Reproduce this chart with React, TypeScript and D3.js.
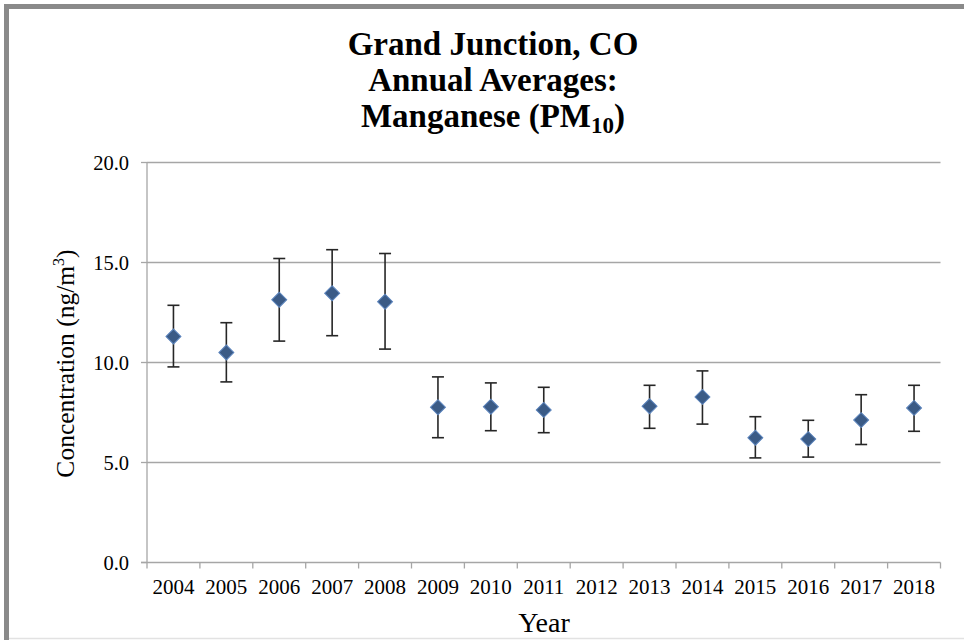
import React from 'react';
import * as d3 from 'd3';

const years = ['2004', '2005', '2006', '2007', '2008', '2009', '2010', '2011', '2012', '2013', '2014', '2015', '2016', '2017', '2018'];
// annual average, with lower / upper confidence bounds (2012 has no data)
const means: (number | null)[] = [11.3, 10.5, 13.14, 13.46, 13.04, 7.76, 7.79, 7.63, null, 7.81, 8.28, 6.24, 6.17, 7.12, 7.73];
const lower: (number | null)[] = [9.78, 9.03, 11.07, 11.34, 10.67, 6.24, 6.59, 6.49, null, 6.71, 6.92, 5.23, 5.27, 5.9, 6.56];
const upper: (number | null)[] = [12.86, 11.99, 15.2, 15.64, 15.45, 9.28, 8.98, 8.76, null, 8.86, 9.58, 7.29, 7.11, 8.39, 8.86];
const yTicks = [0, 5, 10, 15, 20];
const titleLines = ['Grand Junction, CO', 'Annual Averages:'];

const W = 964;
const H = 640;
const FONT = '"Liberation Serif", "Times New Roman", serif';

const App: React.FC = () => {
  const x = d3.scaleBand<string>().domain(years).range([147, 940.5]).padding(0);
  const y = d3.scaleLinear().domain([0, 20]).range([562.5, 162.5]);
  const diamond = d3.symbol().type(d3.symbolSquare).size(112)();
  const cx = (yr: string) => (x(yr) ?? 0) + x.bandwidth() / 2;
  const boundaries = years.map(yr => x(yr) ?? 0).concat([x.range()[1]]);

  return (
    <svg width={W} height={H} style={{ position: 'absolute', left: 0, top: 0, background: '#fff' }} fontFamily={FONT}>
      {/* outer frame */}
      <rect x={0} y={0} width={W} height={H} fill="#fff" />
      <line x1={6.5} y1={4} x2={6.5} y2={H} stroke="#8a8a8a" strokeWidth={5} />
      <line x1={4} y1={6.5} x2={W} y2={6.5} stroke="#8a8a8a" strokeWidth={5} />
      <line x1={9} y1={638.5} x2={W} y2={638.5} stroke="#e2e2e2" strokeWidth={1.5} />

      {/* title */}
      <g fontWeight="bold" fontSize={33} textAnchor="middle" fill="#000">
        {titleLines.map((t, i) => (
          <text key={t} x={493} y={55 + i * 36}>{t}</text>
        ))}
        <text x={493} y={127}>
          Manganese (PM<tspan fontSize={23} dy={6}>10</tspan><tspan dy={-6}>)</tspan>
        </text>
      </g>

      {/* gridlines */}
      {yTicks.filter(t => t > 0).map(t => (
        <line key={t} x1={147} x2={940.5} y1={y(t)} y2={y(t)} stroke="#a6a6a6" strokeWidth={1.3} />
      ))}

      {/* axes */}
      <line x1={147} x2={147} y1={y(20)} y2={y(0)} stroke="#a6a6a6" strokeWidth={1.3} />
      <line x1={141} x2={940.5} y1={y(0)} y2={y(0)} stroke="#a6a6a6" strokeWidth={1.3} />
      {yTicks.map(t => (
        <g key={t}>
          <line x1={141} x2={147} y1={y(t)} y2={y(t)} stroke="#a6a6a6" strokeWidth={1.3} />
          <text x={129} y={y(t)} dy="0.36em" textAnchor="end" fontSize={20.5} fill="#000">{t.toFixed(1)}</text>
        </g>
      ))}
      {boundaries.map((b, i) => (
        <line key={i} x1={b} x2={b} y1={y(0)} y2={y(0) + 6} stroke="#a6a6a6" strokeWidth={1.3} />
      ))}
      {years.map(yr => (
        <text key={yr} x={cx(yr)} y={594} textAnchor="middle" fontSize={21} fill="#000">{yr}</text>
      ))}

      {/* axis titles */}
      <text x={544} y={632} textAnchor="middle" fontSize={28} fill="#000">Year</text>
      <text transform="translate(74,363.5) rotate(-90)" textAnchor="middle" fontSize={25.5} fill="#000">
        Concentration (ng/m<tspan fontSize={16} dy={-10}>3</tspan><tspan dy={10}>)</tspan>
      </text>

      {/* error bars and markers */}
      {years.map((yr, i) => {
        const m = means[i];
        const lo = lower[i];
        const hi = upper[i];
        if (m == null || lo == null || hi == null) return null;
        const px = cx(yr);
        return (
          <g key={yr}>
            <line x1={px} x2={px} y1={y(lo)} y2={y(hi)} stroke="#262626" strokeWidth={1.6} />
            <line x1={px - 6} x2={px + 6} y1={y(lo)} y2={y(lo)} stroke="#262626" strokeWidth={1.6} />
            <line x1={px - 6} x2={px + 6} y1={y(hi)} y2={y(hi)} stroke="#262626" strokeWidth={1.6} />
            <path d={diamond ?? ''} transform={`translate(${px},${y(m)}) rotate(45)`} fill="#3b5b86" stroke="#5b84bd" strokeWidth={1} />
          </g>
        );
      })}
    </svg>
  );
};

export default App;
